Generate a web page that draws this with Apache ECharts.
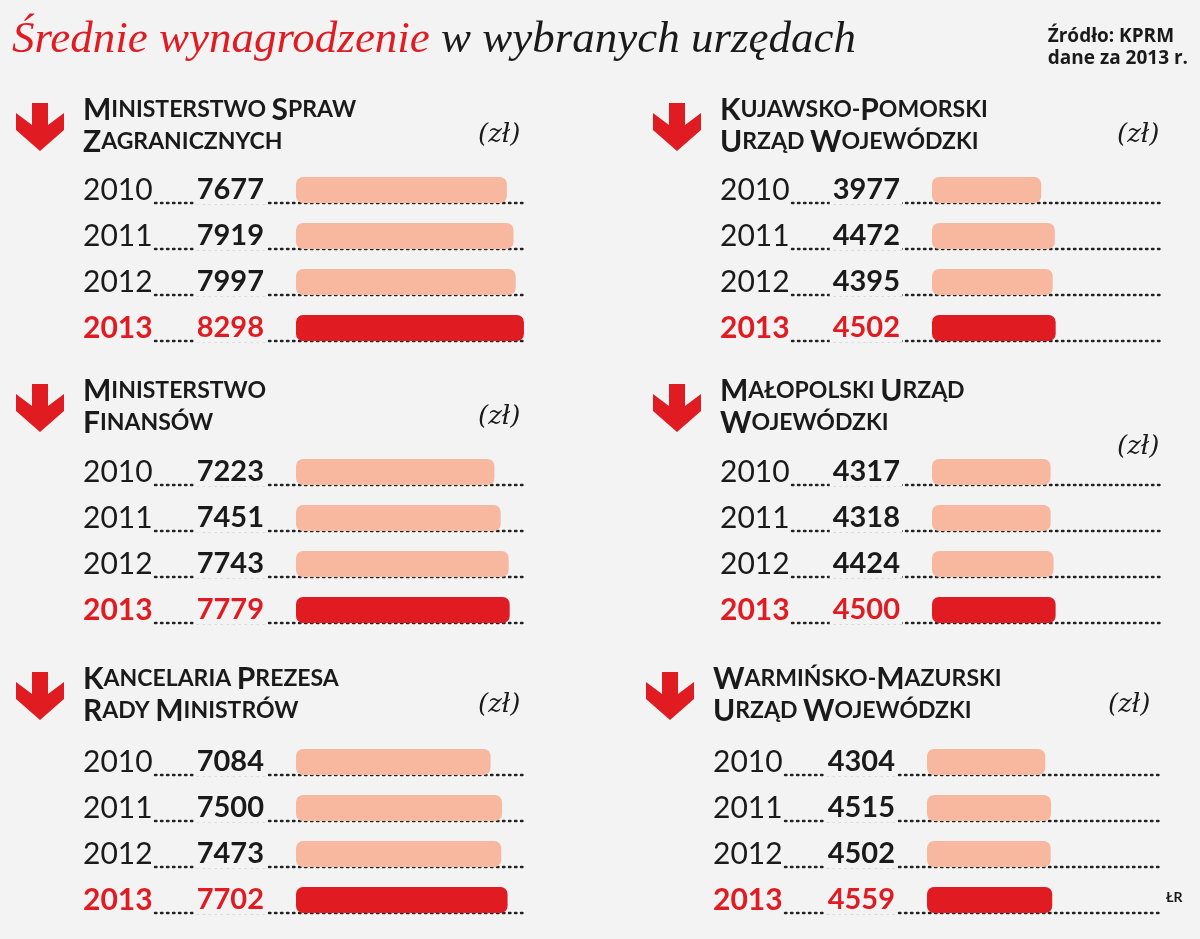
<!DOCTYPE html>
<html><head><meta charset="utf-8">
<script src="https://cdn.jsdelivr.net/npm/echarts@6/dist/echarts.min.js"></script>
<style>html,body{margin:0;padding:0;background:#f3f3f3}#c{width:1200px;height:939px}</style>
</head><body><div id="c"></div>
<script>
// dane
var years = ['2010', '2011', '2012', '2013'];
var titles = [
    ['Ministerstwo Spraw', 'Zagranicznych'],
    ['Kujawsko-Pomorski', 'Urząd Wojewódzki'],
    ['Ministerstwo', 'Finansów'],
    ['Małopolski Urząd', 'Wojewódzki'],
    ['Kancelaria Prezesa', 'Rady Ministrów'],
    ['Warmińsko-Mazurski', 'Urząd Wojewódzki']
];
var msz = [7677, 7919, 7997, 8298];
var kujawsko = [3977, 4472, 4395, 4502];
var mf = [7223, 7451, 7743, 7779];
var malopolski = [4317, 4318, 4424, 4500];
var kprm = [7084, 7500, 7473, 7702];
var warminsko = [4304, 4515, 4502, 4559];
var values = [msz, kujawsko, mf, malopolski, kprm, warminsko];

// układ paneli: x tekstu, x słupków, y góry tabeli, y tytułu, y (zł)
var panels = [
    {tx: 83, bx: 296, top: 167, ty: 95, zy: 122, zx: 478},
    {tx: 720, bx: 932, top: 167, ty: 95, zy: 122, zx: 1117},
    {tx: 83, bx: 296, top: 449, ty: 376, zy: 404, zx: 478},
    {tx: 720, bx: 932, top: 449, ty: 376, zy: 434, zx: 1117},
    {tx: 83, bx: 296, top: 739, ty: 664, zy: 692, zx: 478},
    {tx: 713, bx: 927, top: 739, ty: 664, zy: 692, zx: 1108}
];
var ROW = 46, RED = '#e11b22', PINK = '#f8b8a0', LINE_END = [525, 1160];

var grids = [], xAxes = [], yAxes = [], series = [], graphics = [];

function smallCaps(s) {
    // pierwsza litera każdego słowa (także po myślniku) większa
    return s.split(' ').map(function (w) {
        return w.split('-').map(function (p) {
            return '{b|' + p.charAt(0).toUpperCase() + '}{s|' + p.slice(1).toUpperCase() + '}';
        }).join('{s|-}');
    }).join('{s| }');
}

panels.forEach(function (p, k) {
    var lineEnd = LINE_END[k % 2];
    grids.push({left: p.bx, top: p.top, width: 228, height: ROW * 4});
    xAxes.push({gridIndex: k, type: 'value', min: 0, max: 8300, show: false});
    yAxes.push({
        gridIndex: k, type: 'category', data: years, inverse: true, position: 'left',
        axisLine: {show: false}, axisTick: {show: false},
        axisLabel: {
            align: 'left', margin: p.bx - p.tx, fontFamily: 'Lato', fontSize: 30,
            formatter: function (v) { return v === '2013' ? '{r|' + v + '}' : '{n|' + v + '}'; },
            rich: {
                n: {fontFamily: 'Lato', fontSize: 30, color: '#1a1a1a'},
                r: {fontFamily: 'Lato', fontSize: 30, fontWeight: 'bold', color: RED}
            }
        }
    });
    yAxes.push({
        gridIndex: k, type: 'category', data: years, inverse: true, position: 'left', offset: 0,
        axisLine: {show: false}, axisTick: {show: false},
        axisLabel: {
            align: 'right', margin: 30,
            formatter: function (v, i) { return (i === 3 ? '{r|' : '{n|') + values[k][i] + '}'; },
            rich: {
                n: {fontFamily: 'Lato', fontSize: 29, fontWeight: 'bold', color: '#1a1a1a', backgroundColor: '#f3f3f3', padding: [0, 2, 0, 3]},
                r: {fontFamily: 'Lato', fontSize: 29, fontWeight: 'bold', color: RED, backgroundColor: '#f3f3f3', padding: [0, 2, 0, 3]}
            }
        }
    });
    series.push({
        type: 'bar', xAxisIndex: k, yAxisIndex: k * 2, barWidth: 26, z: 5,
        data: values[k].map(function (v, i) {
            return {value: v, itemStyle: {color: i === 3 ? RED : PINK, borderRadius: 7}};
        })
    });
    // kropkowane linie
    for (var i = 0; i < 4; i++) {
        var y = p.top + ROW / 2 + i * ROW + 13;
        graphics.push({type: 'line', z: 0, shape: {x1: p.tx + 72, y1: y, x2: lineEnd, y2: y},
            style: {stroke: '#222', lineWidth: 2.4, lineDash: [1.5, 4.5], lineCap: 'round'}});
    }
    // strzałka
    var ax = p.tx - 43, ay = p.ty + 8;
    graphics.push({type: 'polygon', shape: {points: [
        [ax - 8, ay], [ax + 8, ay], [ax + 8, ay + 22], [ax + 24, ay + 10], [ax + 24, ay + 27],
        [ax, ay + 48], [ax - 24, ay + 27], [ax - 24, ay + 10], [ax - 8, ay + 22]
    ]}, style: {fill: RED}});
    // tytuł
    graphics.push({type: 'text', left: p.tx, top: p.ty, style: {
        text: smallCaps(titles[k][0]) + '\n' + smallCaps(titles[k][1]),
        rich: {
            b: {fontFamily: 'Lato', fontWeight: 'bold', fontSize: 30, fill: '#1a1a1a', lineHeight: 32},
            s: {fontFamily: 'Lato', fontWeight: 'bold', fontSize: 23, fill: '#1a1a1a', lineHeight: 32}
        }
    }});
    graphics.push({type: 'text', left: p.zx, top: p.zy, style: {
        text: '(zł)', font: 'italic 26px "DejaVu Serif"', fill: '#1a1a1a'}});
});

graphics.push({type: 'text', left: 12, top: 18, style: {
    text: '{a|Średnie wynagrodzenie}{b| w wybranych urzędach}',
    rich: {
        a: {fontFamily: 'Liberation Serif', fontStyle: 'italic', fontSize: 45, fill: RED},
        b: {fontFamily: 'Liberation Serif', fontStyle: 'italic', fontSize: 45, fill: '#1a1a1a'}
    }
}});
graphics.push({type: 'text', right: 12, top: 26, style: {
    text: 'Źródło: KPRM\ndane za 2013 r.', align: 'right',
    font: 'bold 19px "Open Sans"', lineHeight: 22, fill: '#1a1a1a'}});
graphics.push({type: 'text', left: 1166, top: 890, style: {
    text: 'ŁR', font: 'bold 14px Lato', fill: '#1a1a1a'}});

var chart = echarts.init(document.getElementById('c'));
chart.setOption({
    backgroundColor: '#f3f3f3',
    animation: false,
    grid: grids, xAxis: xAxes, yAxis: yAxes, series: series, graphic: graphics
});
</script></body></html>
